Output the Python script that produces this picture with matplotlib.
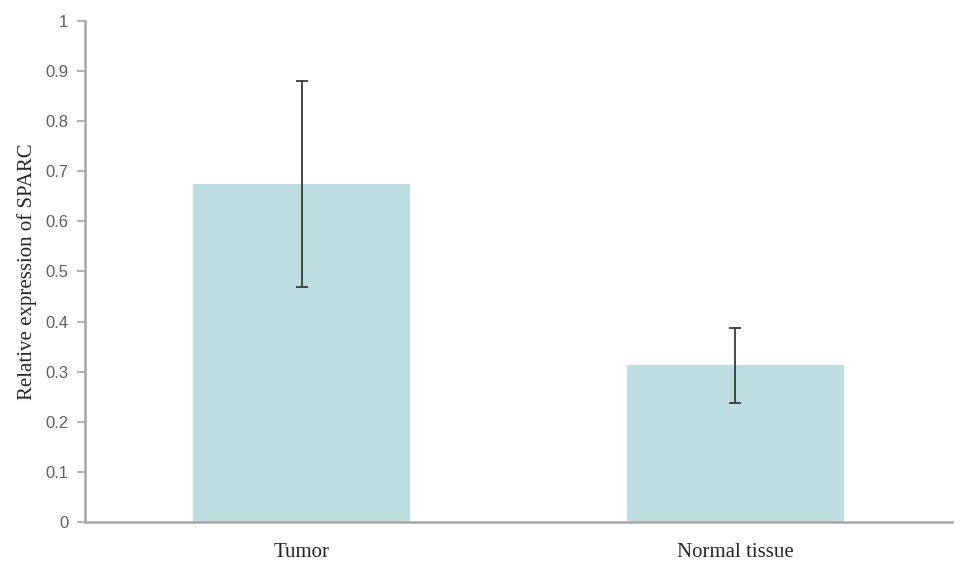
import matplotlib
matplotlib.use("Agg")
import matplotlib.pyplot as plt

groups = ["Tumor", "Normal tissue"]
means = [0.675, 0.313]
errs = [0.205, 0.075]
yticks = [0, 0.1, 0.2, 0.3, 0.4, 0.5, 0.6, 0.7, 0.8, 0.9, 1]
ytick_labels = ["0", "0.1", "0.2", "0.3", "0.4", "0.5", "0.6", "0.7", "0.8", "0.9", "1"]

fig = plt.figure(figsize=(9.69, 5.75), dpi=100)
ax = fig.add_axes([0.0877, 0.0922, 0.8948, 0.8713])

x = range(len(groups))
ax.bar(x, means, width=0.5, color="#bcdee0")
ax.errorbar(x, means, yerr=errs, fmt="none", ecolor="#3a3a3a",
            elinewidth=1.3, capsize=4, capthick=1.3)

ax.set_xlim(-0.5, 1.5)
ax.set_ylim(0, 1)
ax.set_yticks(yticks)
ax.set_yticklabels(ytick_labels, fontsize=12, color="#5f5f5f",
                   family="Liberation Sans")
ax.set_xticks(list(x))
ax.set_xticklabels(groups, fontsize=15, family="Liberation Serif",
                   color="#262626")
ax.tick_params(axis="x", length=0, pad=15)
ax.tick_params(axis="y", length=6, color="#a6a6a6", width=1.2, pad=6)

for s in ["top", "right"]:
    ax.spines[s].set_visible(False)
for s in ["left", "bottom"]:
    ax.spines[s].set_color("#a6a6a6")
    ax.spines[s].set_linewidth(1.8)

ax.set_ylabel("Relative expression of SPARC", fontsize=15,
              family="Liberation Serif", color="#262626", labelpad=6)

fig.savefig("out.png", dpi=100)
